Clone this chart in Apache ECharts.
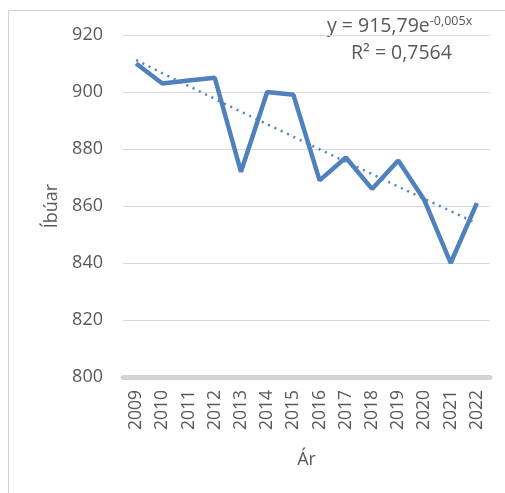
<!DOCTYPE html>
<html><head><meta charset="utf-8">
<script src="https://cdn.jsdelivr.net/npm/echarts@6/dist/echarts.min.js"></script>
<style>html,body{margin:0;padding:0;background:#fff}#c{width:505px;height:493px}</style>
</head><body><div id="c"></div>
<script>
var years = ['2009','2010','2011','2012','2013','2014','2015','2016','2017','2018','2019','2020','2021','2022'];
var residents = [910, 903, 904, 905, 872, 900, 899, 869, 877, 866, 876, 862, 840, 861];
var trend = [911.2, 906.6, 902.1, 897.6, 893.1, 888.7, 884.3, 879.9, 875.5, 871.2, 866.8, 862.5, 858.2, 853.9];
var yTicks = [800, 820, 840, 860, 880, 900, 920];
var eqText = ['{b|y = 915,79e}{s|-0,005x}', '{b|R² = 0,7564}'];

var font = 'Open Sans';
var grey = '#595959';
var chart = echarts.init(document.getElementById('c'));
chart.setOption({
  animation: false,
  textStyle: {fontFamily: font},
  grid: {left: 123, right: 15, top: 35, bottom: 116},
  xAxis: {
    type: 'category', data: years, boundaryGap: true,
    name: 'Ár', nameLocation: 'middle', nameGap: 74,
    nameTextStyle: {color: grey, fontSize: 18, fontFamily: font},
    axisLine: {show: true, onZero: false, lineStyle: {color: '#d4d4d4', width: 5}},
    axisTick: {show: false},
    axisLabel: {rotate: 90, color: grey, fontSize: 17.5, margin: 13, fontFamily: font},
    z: 5
  },
  yAxis: {
    type: 'value', min: yTicks[0], max: yTicks[yTicks.length-1], interval: 20,
    name: 'Íbúar', nameLocation: 'middle', nameGap: 57,
    nameTextStyle: {color: grey, fontSize: 18, fontFamily: font},
    axisLine: {show: false}, axisTick: {show: false},
    axisLabel: {color: grey, fontSize: 18, margin: 20, fontFamily: font},
    splitLine: {lineStyle: {color: '#d9d9d9', width: 1}}
  },
  series: [
    {type: 'line', data: residents, symbol: 'none',
     lineStyle: {color: '#4f81bd', width: 4.5}, z: 3},
    {type: 'line', data: trend, symbol: 'none',
     lineStyle: {color: '#4f81bd', width: 2.5, type: [2, 5]}, z: 2}
  ],
  graphic: [
    {type: 'rect', shape: {x: 8.5, y: 10.5, width: 600, height: 600},
     style: {fill: 'none', stroke: '#d0d0d0', lineWidth: 1}, silent: true, z: -1},
    {type: 'text', left: 327, top: 15,
     style: {text: eqText[0], fontFamily: font,
       rich: {b: {fontSize: 19.5, fill: grey, fontFamily: font},
              s: {fontSize: 12.5, fill: grey, fontFamily: font, verticalAlign: 'top', padding: [0,0,9,0]}}}},
    {type: 'text', left: 351, top: 43,
     style: {text: eqText[1], fontFamily: font,
       rich: {b: {fontSize: 19.5, fill: grey, fontFamily: font}}}}
  ]
});
</script></body></html>
